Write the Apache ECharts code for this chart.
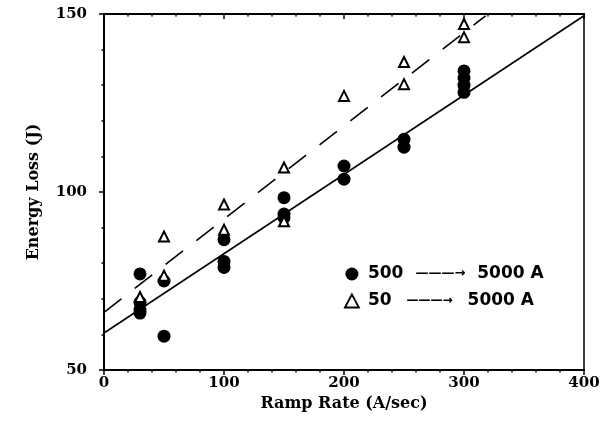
<!DOCTYPE html>
<html><head><meta charset="utf-8">
<script src="https://cdn.jsdelivr.net/npm/echarts@6/dist/echarts.min.js"></script>
<style>html,body{margin:0;padding:0;background:#fff}#c{width:615px;height:437px}</style>
</head><body><div id="c"></div>
<script>
// Ramp rate (A/sec), energy loss (J)
var circleX = [30, 30, 30, 30, 50, 50, 100, 100, 100, 150, 150, 150, 200, 200, 250, 250, 300, 300, 300, 300];
var circleY = [77, 69, 67, 66, 75, 59.5, 86.6, 80.5, 78.8, 98.4, 93.8, 92.8, 107.3, 103.6, 114.8, 112.6, 134, 132, 130, 128];
var triX = [30, 50, 50, 100, 100, 150, 150, 200, 250, 250, 300, 300];
var triY = [70.5, 87.5, 76.5, 96.5, 89.4, 106.9, 91.8, 127, 136.5, 130.3, 147.2, 143.5];
var fitSolidX = [0, 400];
var fitSolidY = [60.4, 149.5];
var fitDashX = [0, 318];
var fitDashY = [66.2, 149.5];
var xTicks = [0, 100, 200, 300, 400];
var yTicks = [50, 100, 150];
var seriesNames = ['500 \u2192 5000 A', '50 \u2192 5000 A'];

function pairs(xs, ys) { return xs.map(function (x, i) { return [x, ys[i]]; }); }

var chart = echarts.init(document.getElementById('c'), null, {renderer: 'canvas'});
var serif = '"DejaVu Serif", serif';
var axisLine = {lineStyle: {color: '#000', width: 2}};
function xAx(inside, labels) {
  return {
    type: 'value', min: xTicks[0], max: xTicks[xTicks.length - 1], interval: 100,
    axisLine: axisLine,
    axisTick: {show: true, inside: inside, length: 5, lineStyle: {color: '#000', width: 1.5}},
    minorTick: {show: true, splitNumber: 5, length: 2.5, lineStyle: {color: '#000', width: 1.5}},
    splitLine: {show: false},
    axisLabel: {show: labels, margin: 6, color: '#000', fontFamily: serif, fontWeight: 'bold', fontSize: 15},
    name: labels ? 'Ramp Rate (A/sec)' : '', nameLocation: 'middle', nameGap: 26,
    nameTextStyle: {color: '#000', fontFamily: serif, fontWeight: 'bold', fontSize: 16}
  };
}
function yAx(inside, labels) {
  return {
    type: 'value', min: yTicks[0], max: yTicks[yTicks.length - 1], interval: 50,
    axisLine: axisLine,
    axisTick: {show: true, inside: inside, length: 5, lineStyle: {color: '#000', width: 1.5}},
    minorTick: {show: true, splitNumber: 5, length: 2.5, lineStyle: {color: '#000', width: 1.5}},
    splitLine: {show: false},
    axisLabel: {show: labels, margin: 17, color: '#000', fontFamily: serif, fontWeight: 'bold', fontSize: 15},
    name: labels ? 'Energy Loss (J)' : '', nameLocation: 'middle', nameGap: 62,
    nameTextStyle: {color: '#000', fontFamily: serif, fontWeight: 'bold', fontSize: 16}
  };
}

chart.setOption({
  animation: false,
  backgroundColor: '#fff',
  grid: {left: 104, right: 31, top: 14, bottom: 67, show: true, borderColor: '#000', borderWidth: 1.5},
  xAxis: [xAx(false, true), xAx(true, false)],
  yAxis: [yAx(false, true), yAx(true, false)],
  legend: {
    orient: 'vertical', left: 339, top: 259, itemGap: 7, itemWidth: 14, itemHeight: 13,
    data: [
      {name: seriesNames[0], icon: 'circle'},
      {name: seriesNames[1], icon: 'triangle', itemStyle: {color: '#fff', borderColor: '#000', borderWidth: 1.8}}
    ],
    formatter: function (n) {
      var p = n.split(' \u2192 ');
      if (n === seriesNames[0]) return '{l| }' + p[0] + '{a|\u2014\u2014\u2014\u2192}' + p[1];
      return '{l| }' + p[0] + '{b|\u2014\u2014\u2014\u2192}' + p[1];
    },
    textStyle: {color: '#000', fontFamily: '"DejaVu Sans", sans-serif', fontWeight: 'bold', fontSize: 17, lineHeight: 20,
      rich: {
        l: {width: 4, fontSize: 17},
        a: {fontSize: 13, fontWeight: 'bold', color: '#000', fontFamily: '"DejaVu Sans", sans-serif', padding: [0, 12, 0, 12]},
        b: {fontSize: 12, fontWeight: 'bold', color: '#000', fontFamily: '"DejaVu Sans", sans-serif', padding: [0, 15, 0, 15]}
      }}
  },
  series: [
    {name: seriesNames[0], type: 'scatter', symbol: 'circle', symbolSize: 13,
     itemStyle: {color: '#000', opacity: 1}, data: pairs(circleX, circleY), z: 3},
    {name: seriesNames[1], type: 'scatter', symbol: 'triangle', symbolSize: 10,
     itemStyle: {color: '#fff', borderColor: '#000', borderWidth: 2, opacity: 1}, data: pairs(triX, triY), z: 4},
    {name: 'fit1', type: 'line', data: pairs(fitSolidX, fitSolidY), symbol: 'none',
     lineStyle: {color: '#000', width: 1.6}, z: 2},
    {name: 'fit2', type: 'line', data: pairs(fitDashX, fitDashY), symbol: 'none',
     lineStyle: {color: '#000', width: 1.6, type: [22, 17]}, z: 2}
  ]
});
</script></body></html>
